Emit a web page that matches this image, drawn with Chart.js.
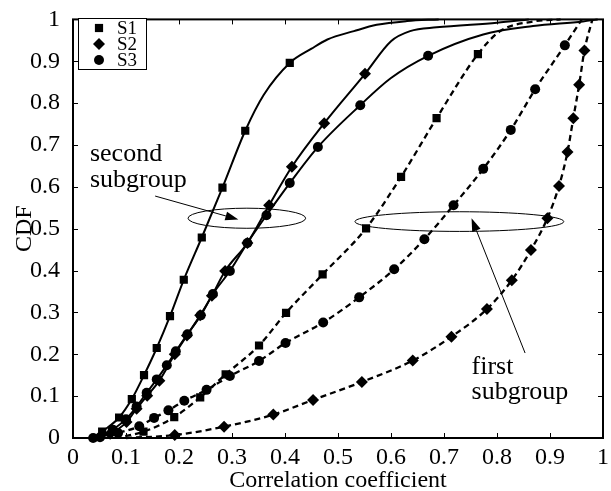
<!DOCTYPE html>
<html>
<head>
<meta charset="utf-8">
<script src="https://cdn.jsdelivr.net/npm/chart.js@4.4.1/dist/chart.umd.min.js"></script>
<style>
  html, body { margin: 0; padding: 0; background: #fff; }
</style>
</head>
<body>
<canvas id="cdf" width="611" height="491"></canvas>
<script>
// CDF of correlation coefficients, S1/S2/S3, two subgroups (solid / dashed)

const tickLabels = ['0', '0.1', '0.2', '0.3', '0.4', '0.5', '0.6', '0.7', '0.8', '0.9', '1'];

// second subgroup (solid lines)
const s1SolidX = [0.04, 0.055, 0.087, 0.111, 0.134, 0.158, 0.183, 0.209, 0.243, 0.282, 0.325, 0.36, 0.409, 0.45, 0.48, 0.53, 0.573, 0.63, 0.69];
const s1SolidY = [0, 0.015, 0.049, 0.093, 0.15, 0.215, 0.291, 0.378, 0.479, 0.598, 0.734, 0.82, 0.896, 0.93, 0.952, 0.972, 0.987, 0.996, 1];
const s1SolidMarks = [0, 1, 1, 1, 1, 1, 1, 1, 1, 1, 1, 0, 1, 0, 0, 0, 0, 0, 0];

const s2SolidX = [0.045, 0.07, 0.101, 0.12, 0.14, 0.163, 0.192, 0.215, 0.24, 0.262, 0.287, 0.329, 0.37, 0.413, 0.474, 0.551, 0.6, 0.636, 0.686, 0.8, 0.86];
const s2SolidY = [0, 0.01, 0.038, 0.07, 0.101, 0.137, 0.2, 0.245, 0.293, 0.34, 0.399, 0.466, 0.556, 0.648, 0.752, 0.87, 0.948, 0.972, 0.981, 0.992, 1];
const s2SolidMarks = [0, 1, 1, 1, 1, 1, 1, 1, 1, 1, 1, 1, 1, 1, 1, 1, 0, 0, 0, 0, 0];

const s3SolidX = [0.038, 0.051, 0.075, 0.1, 0.12, 0.139, 0.158, 0.177, 0.194, 0.216, 0.241, 0.264, 0.296, 0.329, 0.365, 0.409, 0.462, 0.542, 0.6, 0.67, 0.774, 0.868, 0.962, 0.99];
const s3SolidY = [0, 0.002, 0.02, 0.045, 0.075, 0.108, 0.14, 0.174, 0.207, 0.248, 0.293, 0.344, 0.399, 0.466, 0.532, 0.609, 0.695, 0.795, 0.86, 0.913, 0.964, 0.984, 0.995, 1];
const s3SolidMarks = [1, 1, 1, 1, 1, 1, 1, 1, 1, 1, 1, 1, 1, 1, 1, 1, 1, 1, 0, 1, 0, 0, 0, 0];

// first subgroup (dashed lines)
const s1DashX = [0.08, 0.133, 0.191, 0.24, 0.288, 0.351, 0.402, 0.471, 0.553, 0.619, 0.686, 0.764, 0.806, 0.868, 0.92];
const s1DashY = [0, 0.015, 0.05, 0.097, 0.152, 0.221, 0.299, 0.391, 0.501, 0.624, 0.764, 0.917, 0.972, 0.995, 1];
const s1DashMarks = [0, 1, 1, 1, 1, 1, 1, 1, 1, 1, 1, 1, 0, 0, 0];

const s2DashX = [0.1, 0.192, 0.285, 0.378, 0.453, 0.545, 0.641, 0.714, 0.781, 0.828, 0.864, 0.895, 0.917, 0.933, 0.944, 0.955, 0.965, 0.98];
const s2DashY = [0, 0.007, 0.027, 0.056, 0.091, 0.134, 0.185, 0.242, 0.308, 0.377, 0.449, 0.525, 0.602, 0.683, 0.764, 0.844, 0.926, 1];
const s2DashMarks = [0, 1, 1, 1, 1, 1, 1, 1, 1, 1, 1, 1, 1, 1, 1, 1, 1, 0];

const s3DashX = [0.05, 0.085, 0.125, 0.153, 0.18, 0.21, 0.252, 0.296, 0.351, 0.401, 0.472, 0.54, 0.606, 0.663, 0.718, 0.774, 0.826, 0.872, 0.928, 0.96];
const s3DashY = [0, 0.012, 0.028, 0.048, 0.066, 0.089, 0.115, 0.148, 0.184, 0.227, 0.276, 0.336, 0.403, 0.475, 0.556, 0.643, 0.736, 0.833, 0.938, 1];
const s3DashMarks = [0, 1, 1, 1, 1, 1, 1, 1, 1, 1, 1, 1, 1, 1, 1, 1, 1, 1, 1, 0];

const legendNames = ['S1', 'S2', 'S3'];
const legendStyles = ['rect', 'rectRot', 'circle'];

// annotation geometry, in data units
const ellipses = [
  { cx: 0.328, cy: 0.525, rx: 0.111, ry: 0.024 },
  { cx: 0.729, cy: 0.517, rx: 0.197, ry: 0.0235 },
];
const arrows = [
  { x0: 0.155, y0: 0.578, x1: 0.312, y1: 0.522 },
  { x0: 0.853, y0: 0.203, x1: 0.752, y1: 0.525 },
];
const notes = [
  { text: 'second', x: 0.032, y: 0.661 },
  { text: 'subgroup', x: 0.032, y: 0.600 },
  { text: 'first', x: 0.752, y: 0.153 },
  { text: 'subgroup', x: 0.752, y: 0.092 },
];

const SERIF = '"Liberation Serif", "Times New Roman", serif';
const markerSize = { rect: 5.8, rectRot: 6, circle: 5 };

function curve(xs, ys, marks, style, dashed) {
  return {
    data: xs.map((x, i) => ({ x, y: ys[i] })),
    showLine: true,
    borderColor: '#000',
    borderWidth: dashed ? 2.3 : 2,
    borderDash: dashed ? [6, 4] : [],
    cubicInterpolationMode: 'monotone',
    pointStyle: style,
    pointRadius: marks.map(m => m ? markerSize[style] : 0),
    pointBackgroundColor: '#000',
    pointBorderColor: '#000',
    pointBorderWidth: 0,
    clip: 6,
  };
}

function markerPath(ctx, style, x, y) {
  const r = markerSize[style];
  ctx.beginPath();
  if (style === 'rect') {
    const s = r * Math.SQRT1_2;
    ctx.rect(x - s, y - s, 2 * s, 2 * s);
  } else if (style === 'rectRot') {
    ctx.moveTo(x, y - r); ctx.lineTo(x + r, y); ctx.lineTo(x, y + r); ctx.lineTo(x - r, y);
    ctx.closePath();
  } else {
    ctx.arc(x, y, r, 0, Math.PI * 2);
  }
  ctx.fill();
}

const annotations = {
  id: 'annotations',
  afterDatasetsDraw(chart) {
    const { ctx } = chart;
    const xs = chart.scales.x, ys = chart.scales.y;
    const px = v => xs.getPixelForValue(v), py = v => ys.getPixelForValue(v);
    ctx.save();
    ctx.strokeStyle = '#000';
    ctx.fillStyle = '#000';
    ctx.lineWidth = 1;

    ellipses.forEach(e => {
      const cx = px(e.cx), cy = py(e.cy);
      ctx.beginPath();
      ctx.ellipse(cx, cy, px(e.cx + e.rx) - cx, cy - py(e.cy + e.ry), 0, 0, Math.PI * 2);
      ctx.stroke();
    });

    arrows.forEach(a => {
      const x0 = px(a.x0), y0 = py(a.y0), x1 = px(a.x1), y1 = py(a.y1);
      const ang = Math.atan2(y1 - y0, x1 - x0);
      const len = 13, half = 4.5;
      const bx = x1 - len * Math.cos(ang), by = y1 - len * Math.sin(ang);
      ctx.beginPath();
      ctx.moveTo(x0, y0); ctx.lineTo(bx, by);
      ctx.stroke();
      ctx.beginPath();
      ctx.moveTo(x1, y1);
      ctx.lineTo(bx + half * Math.sin(ang), by - half * Math.cos(ang));
      ctx.lineTo(bx - half * Math.sin(ang), by + half * Math.cos(ang));
      ctx.closePath();
      ctx.fill();
    });

    ctx.font = '26px ' + SERIF;
    ctx.textAlign = 'left';
    ctx.textBaseline = 'alphabetic';
    notes.forEach(n => ctx.fillText(n.text, px(n.x), py(n.y)));
    ctx.restore();
  },
  afterDraw(chart) {
    const { ctx, chartArea: a } = chart;
    const xs = chart.scales.x, ys = chart.scales.y;
    ctx.save();
    ctx.strokeStyle = '#000';

    // inward tick marks on all four sides
    ctx.lineWidth = 1;
    ctx.beginPath();
    xs.ticks.forEach(t => {
      const x = Math.round(xs.getPixelForValue(t.value)) + 0.5;
      ctx.moveTo(x, a.bottom); ctx.lineTo(x, a.bottom - 5);
      ctx.moveTo(x, a.top); ctx.lineTo(x, a.top + 5);
    });
    ys.ticks.forEach(t => {
      const y = Math.round(ys.getPixelForValue(t.value)) + 0.5;
      ctx.moveTo(a.left, y); ctx.lineTo(a.left + 5, y);
      ctx.moveTo(a.right, y); ctx.lineTo(a.right - 5, y);
    });
    ctx.stroke();

    ctx.lineWidth = 2;
    ctx.strokeRect(a.left, a.top, a.right - a.left, a.bottom - a.top);

    // legend box
    const lx = 78, ly = 18, lw = 68, lh = 51;
    ctx.fillStyle = '#fff';
    ctx.fillRect(lx, ly, lw, lh);
    ctx.lineWidth = 1;
    ctx.strokeRect(lx + 0.5, ly + 0.5, lw, lh);
    ctx.fillStyle = '#000';
    ctx.font = '19px ' + SERIF;
    ctx.textBaseline = 'middle';
    legendNames.forEach((name, i) => {
      const y = ly + 10 + i * 16;
      markerPath(ctx, legendStyles[i], lx + 21, y);
      ctx.fillText(name, lx + 39, y + 1);
    });
    ctx.restore();
  }
};

new Chart(document.getElementById('cdf'), {
  type: 'scatter',
  data: {
    datasets: [
      curve(s1SolidX, s1SolidY, s1SolidMarks, 'rect', false),
      curve(s2SolidX, s2SolidY, s2SolidMarks, 'rectRot', false),
      curve(s3SolidX, s3SolidY, s3SolidMarks, 'circle', false),
      curve(s1DashX, s1DashY, s1DashMarks, 'rect', true),
      curve(s2DashX, s2DashY, s2DashMarks, 'rectRot', true),
      curve(s3DashX, s3DashY, s3DashMarks, 'circle', true),
    ]
  },
  options: {
    responsive: false,
    animation: false,
    layout: { padding: { top: 13, right: 8, left: 0, bottom: 0 } },
    plugins: { legend: { display: false }, tooltip: { enabled: false } },
    scales: {
      x: {
        type: 'linear', min: 0, max: 1,
        afterFit: s => { s.height = 53; },
        grid: { display: false },
        border: { display: false },
        ticks: {
          stepSize: 0.1, padding: -3, color: '#000', maxRotation: 0, autoSkip: false,
          font: { family: SERIF, size: 24 },
          callback: (v, i) => tickLabels[i],
        },
        title: {
          display: true, text: 'Correlation coefficient', color: '#000',
          font: { family: SERIF, size: 24, lineHeight: 1 }, padding: { top: 0, bottom: -2 },
        },
      },
      y: {
        type: 'linear', min: 0, max: 1,
        afterFit: s => { s.width = 73; },
        grid: { display: false },
        border: { display: false },
        ticks: {
          stepSize: 0.1, padding: 5, color: '#000', autoSkip: false,
          font: { family: SERIF, size: 24 },
          callback: (v, i) => tickLabels[i],
        },
        title: {
          display: true, text: 'CDF', color: '#000',
          font: { family: SERIF, size: 24, lineHeight: 1 }, padding: { top: 13, bottom: 0 },
        },
      },
    },
  },
  plugins: [annotations],
});
</script>
</body>
</html>
